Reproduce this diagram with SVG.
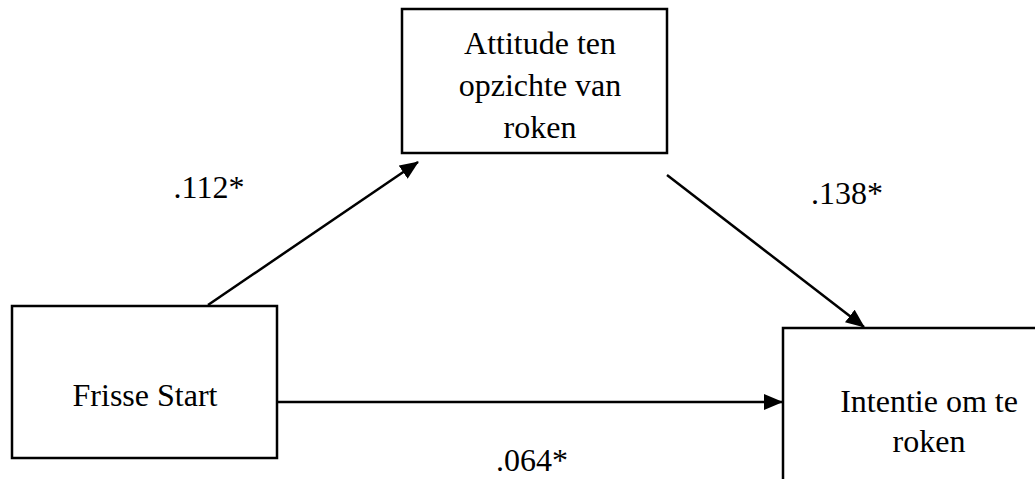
<svg xmlns="http://www.w3.org/2000/svg" width="1035" height="479" viewBox="0 0 1035 479">
  <style>
    .box { fill: #ffffff; stroke: #000000; stroke-width: 2.5; }
    .lbl { font-family: "Liberation Serif", "Times New Roman", serif; font-size: 32px; fill: #000000; text-anchor: middle; }
    .edge { stroke: #000000; stroke-width: 2.5; fill: none; marker-end: url(#arrow); }
  </style>
  <defs>
    <marker id="arrow" markerUnits="userSpaceOnUse" markerWidth="20" markerHeight="16" refX="18" refY="8" orient="auto">
      <path d="M0,0 L19,8 L0,16 Z" fill="#000000"/>
    </marker>
  </defs>
  <rect width="1035" height="479" fill="#ffffff"/>
  <g id="node-attitude">
    <rect class="box" x="402" y="9" width="265" height="144"/>
    <text class="lbl" x="540" y="54">Attitude ten</text>
    <text class="lbl" x="540" y="96">opzichte van</text>
    <text class="lbl" x="540" y="138">roken</text>
  </g>
  <g id="node-frisse">
    <rect class="box" x="12" y="306" width="265" height="152"/>
    <text class="lbl" x="145" y="406">Frisse Start</text>
  </g>
  <g id="node-intentie">
    <rect class="box" x="783" y="328" width="270" height="170"/>
    <text class="lbl" x="929" y="412">Intentie om te</text>
    <text class="lbl" x="929" y="452">roken</text>
  </g>
  <g id="connectors">
    <line class="edge" x1="208" y1="305" x2="418" y2="162"/>
    <line class="edge" x1="667" y1="175" x2="864" y2="327"/>
    <line class="edge" x1="277" y1="402" x2="782" y2="402"/>
  </g>
  <g id="labels">
    <text class="lbl" x="209" y="198">.112*</text>
    <text class="lbl" x="847" y="204">.138*</text>
    <text class="lbl" x="532" y="471">.064*</text>
  </g>
</svg>
